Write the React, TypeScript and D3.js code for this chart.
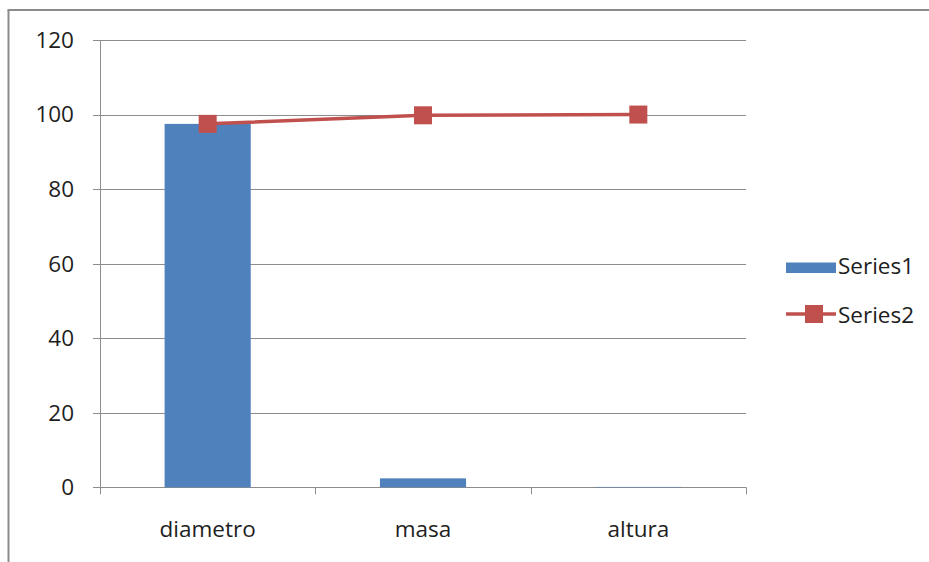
import React from "react";
import * as d3 from "d3";

const categories = ["diametro", "masa", "altura"];
const series1 = [97.5, 2.4, 0.1];
const series2 = [97.5, 99.8, 100];
const yTicks = [0, 20, 40, 60, 80, 100, 120];
const legendLabels = ["Series1", "Series2"];

const W = 929;
const H = 562;
const FONT = "'Open Sans', 'Liberation Sans', sans-serif";
const FS = 22.5;
const BLUE = "#4F81BD";
const RED = "#C0504D";
const GRID = "#8c8c8c";

export default function App() {
  const left = 100, right = 746, top = 40, bottom = 487.3;
  const x = d3.scaleBand<string>().domain(categories).range([left, right]).paddingInner(0.6).paddingOuter(0.3);
  const y = d3.scaleLinear().domain([0, 120]).range([bottom, top]);
  const bound = d3.scaleLinear().domain([0, categories.length]).range([left, right]);
  const cx = (c: string) => (x(c) as number) + x.bandwidth() / 2;
  const line = d3.line<number>().x((_, i) => cx(categories[i])).y((d) => y(d));
  const ms = 18;

  return (
    <svg width={W} height={H} style={{ position: "absolute", left: 0, top: 0, display: "block", background: "#fff" }}>
      {/* outer border (left and top) */}
      <line x1={8.5} y1={10} x2={8.5} y2={H} stroke={GRID} strokeWidth={2} />
      <line x1={7.5} y1={10} x2={W} y2={10} stroke={GRID} strokeWidth={2} />

      {/* gridlines and y ticks */}
      {yTicks.map((t) => (
        <g key={t}>
          <line x1={left - 7} x2={right} y1={Math.round(y(t)) + 0.5} y2={Math.round(y(t)) + 0.5} stroke={GRID} strokeWidth={1} />
          <text x={74} y={y(t)} dy="0.35em" textAnchor="end" fontFamily={FONT} fontSize={FS} fill="#1e1e1e">
            {t}
          </text>
        </g>
      ))}
      {/* y axis */}
      <line x1={left + 0.5} x2={left + 0.5} y1={top} y2={bottom} stroke={GRID} strokeWidth={1} />
      {/* x tick marks */}
      {d3.range(categories.length + 1).map((i) => (
        <line key={i} x1={Math.round(bound(i)) + 0.5} x2={Math.round(bound(i)) + 0.5} y1={bottom} y2={bottom + 7} stroke={GRID} strokeWidth={1} />
      ))}

      {/* bars */}
      {series1.map((v, i) => (
        <rect key={i} x={x(categories[i])} y={y(v)} width={x.bandwidth()} height={bottom - y(v)} fill={BLUE} />
      ))}

      {/* line series */}
      <path d={line(series2) || ""} fill="none" stroke={RED} strokeWidth={3.5} />
      {series2.map((v, i) => (
        <rect key={i} x={cx(categories[i]) - ms / 2} y={y(v) - ms / 2} width={ms} height={ms} fill={RED} />
      ))}

      {/* category labels */}
      {categories.map((c) => (
        <text key={c} x={cx(c)} y={537} textAnchor="middle" fontFamily={FONT} fontSize={FS} fill="#1e1e1e">
          {c}
        </text>
      ))}

      {/* legend */}
      <rect x={786} y={262.5} width={50} height={10.5} fill={BLUE} />
      <text x={838} y={274} fontFamily={FONT} fontSize={FS} fill="#1e1e1e">{legendLabels[0]}</text>
      <line x1={786} x2={836} y1={314} y2={314} stroke={RED} strokeWidth={3.5} />
      <rect x={805} y={305} width={ms} height={ms} fill={RED} />
      <text x={838} y={322.5} fontFamily={FONT} fontSize={FS} fill="#1e1e1e">{legendLabels[1]}</text>
    </svg>
  );
}
